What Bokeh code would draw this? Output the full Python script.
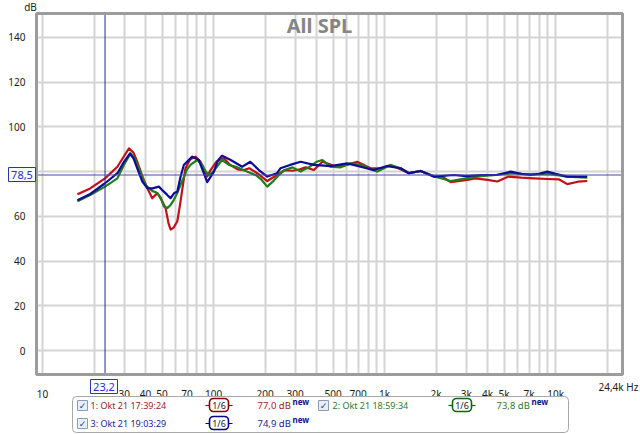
import math
from bokeh.plotting import figure
from bokeh.models import FixedTicker, Label, BoxAnnotation, Grid
from bokeh.embed import file_html
from bokeh.resources import INLINE

# ---------------- data ----------------
red_freq = [16, 19, 23.2, 27.4, 30, 32, 34, 35.8, 38.5, 41, 43.8, 46.9, 49.5, 52.4, 54.5, 56.1, 58.5,
            61.4, 64.1, 66.5, 68.5, 73, 78.5, 84, 88, 91.8, 96, 104, 115, 125, 138, 150, 162, 180,
            206, 235, 260, 290, 320, 345, 386, 433, 470, 517, 600, 692, 828, 950, 1084, 1200, 1388,
            1625, 1936, 2200, 2432, 3042, 3400, 4000, 4560, 5300, 6300, 7460, 8940, 10500, 11700,
            13500, 15300]
red_db = [69.9, 72.5, 77.0, 82.2, 87.0, 90.4, 88.5, 84.4, 77.5, 72.6, 68.1, 70.4, 67.5, 63.7, 57.0, 54.1, 55.0,
          57.8, 66.7, 75.0, 81.5, 85.5, 86.7, 84.4, 80.5, 77.8, 80.7, 84.5, 86.0, 83.0, 81.0, 80.7, 81.5, 79.3,
          75.8, 78.5, 80.7, 80.4, 81.0, 81.9, 80.7, 84.4, 83.5, 82.2, 83.0, 84.4, 81.5, 81.5, 83.0, 81.5, 79.3,
          80.3, 77.8, 77.5, 75.3, 76.3, 77.0, 76.3, 75.6, 77.8, 77.3, 77.0, 76.7, 76.5, 74.4,
          75.5, 75.8]

green_freq = [16, 19, 23.2, 27.4, 29.9, 32.7, 34.5, 36.6, 40, 43.8, 46.9, 49, 51.3, 53.6, 56, 58.6, 61.4,
              64, 67, 70, 73.3, 80.2, 86, 90, 94, 98, 103, 112, 123, 135, 154, 176, 190, 206, 225, 241,
              260, 290, 323, 340, 365, 400, 433, 483, 550, 632, 724, 906, 1084, 1240, 1388, 1625, 1936,
              2432, 3000, 3640, 4500, 5455, 6300, 7145, 8940, 10000, 11700, 15300]
green_db = [66.7, 69.5, 73.3, 77.0, 83.0, 88.1, 86.0, 81.5, 74.0, 71.4, 70.4, 68.5, 64.4, 63.7, 65.0, 67.4, 70.5,
            74.0, 77.5, 81.0, 83.0, 85.2, 83.0, 80.0, 78.5, 79.5, 81.5, 85.2, 83.0, 82.2, 80.3, 78.5, 76.5, 73.3, 76.0, 78.5,
            80.7, 81.9, 80.0, 81.0, 82.2, 84.4, 85.2, 82.2, 81.9, 83.7, 83.0, 80.0, 83.0, 81.5, 79.3, 80.3, 78.0,
            75.8, 77.0, 78.0, 78.5, 79.3, 79.0, 78.9, 79.0, 78.5, 77.8, 77.3]

blue_freq = [16, 19, 23.2, 27.4, 30, 32.4, 34, 35.8, 38.3, 41, 44, 47.9, 50.5, 53.6, 56, 59, 61.4, 64, 67,
             75, 82, 87, 91.8, 100.5, 106, 112, 126, 147, 164, 184, 206, 235, 246, 280, 323, 386, 483,
             605, 724, 866, 1037, 1242, 1388, 1625, 1936, 2537, 3000, 3640, 4500, 5455, 6300, 7145,
             8000, 8940, 10000, 11700, 15300]
blue_db = [67.2, 70.0, 74.8, 79.3, 84.5, 88.1, 86.0, 81.5, 75.6, 72.6, 72.5, 73.3, 71.5, 69.6, 68.1, 70.5, 71.1, 77.5, 83.0,
           86.7, 85.2, 80.0, 75.3, 80.0, 85.0, 87.1, 85.2, 82.2, 84.4, 80.7, 77.8, 79.3, 81.5, 83.0, 84.4, 83.0, 82.5,
           83.7, 82.2, 80.7, 82.5, 81.5, 79.3, 80.3, 77.8, 78.5, 78.0, 78.5, 78.5, 80.0, 79.0, 78.5,
           79.0, 80.0, 79.0, 77.8, 77.8]

series_names = ["1: Okt 21 17:39:24", "2: Okt 21 18:59:34", "3: Okt 21 19:03:29"]
series_levels = ["77,0 dB", "73,8 dB", "74,9 dB"]
smoothing_label = "1/6"

y_ticks = [0, 20, 40, 60, 80, 100, 120, 140]
y_label_ticks = [0, 20, 40, 60, 100, 120, 140]
x_label_ticks = [10, 30, 40, 50, 70, 100, 200, 300, 500, 700, 1000, 2000, 3000, 4000, 5000, 7000, 10000]
x_label_text = ["10", "30", "40", "50", "70", "100", "200", "300", "500", "700", "1k", "2k", "3k",
                "4k", "5k", "7k", "10k"]
grid_freqs = [10, 20, 30, 40, 50, 60, 70, 80, 90, 100, 200, 300, 400, 500, 600, 700, 800, 900,
              1000, 2000, 3000, 4000, 5000, 6000, 7000, 8000, 9000, 10000, 20000]
x_bounds = (9.22, 24600)      # visible frequency span of the chart
y_bounds = (-10.7, 150.7)     # visible level span of the chart
cursor_freq = 23.2
cursor_db = 78.5
cursor_freq_text = "23,2"
cursor_db_text = "78,5"
x_end_text = "24,4k Hz"

# ---------------- layout ----------------
W, H = 640, 434
CL, CT, CR, CB = 36, 13, 622, 374   # chart box in canvas pixels
FONT = "Noto Sans"

lx0, lx1 = math.log10(x_bounds[0]), math.log10(x_bounds[1])
ppd = (CR - CL) / (lx1 - lx0)
fx0 = 10 ** (lx0 - CL / ppd)
fx1 = 10 ** (lx1 + (W - CR) / ppd)
ppu = (CB - CT) / (y_bounds[1] - y_bounds[0])
fy1 = y_bounds[1] + CT / ppu
fy0 = y_bounds[0] - (H - CB) / ppu


def sx(X):
    return X


def sy(Y):
    return H - Y


def lab(X, Y, text, **kw):
    opts = dict(text_font=FONT, text_font_size="10px", text_color="#202020", text_align="left",
                text_baseline="middle", level="overlay")
    opts.update(kw)
    return Label(x=sx(X), y=sy(Y), x_units="screen", y_units="screen", text=text, **opts)


def box(L, R, T, B, **kw):
    opts = dict(fill_alpha=1, line_alpha=1, level="overlay")
    opts.update(kw)
    return BoxAnnotation(left=sx(L), right=sx(R), top=sy(T), bottom=sy(B),
                         left_units="screen", right_units="screen", top_units="screen",
                         bottom_units="screen", **opts)


p = figure(width=W, height=H, x_axis_type="log", x_range=(fx0, fx1), y_range=(fy0, fy1),
           output_backend="svg", toolbar_location=None, title=None,
           min_border_left=0, min_border_right=0, min_border_top=0, min_border_bottom=0)
p.background_fill_color = "white"
p.border_fill_color = "white"
p.outline_line_color = None

# grid lines limited to the chart box
grid_col = "#d4d4d4"
if hasattr(Grid(), "cross_bounds"):
    p.xgrid.ticker = FixedTicker(ticks=grid_freqs)
    p.ygrid.ticker = FixedTicker(ticks=y_ticks)
    p.xgrid.cross_bounds = y_bounds
    p.ygrid.cross_bounds = x_bounds
    for g in (p.xgrid, p.ygrid):
        g.grid_line_color = grid_col
        g.grid_line_width = 2
else:
    p.xgrid.visible = False
    p.ygrid.visible = False
    p.segment(grid_freqs, [y_bounds[0]] * len(grid_freqs), grid_freqs, [y_bounds[1]] * len(grid_freqs),
              line_color=grid_col, line_width=2, level="underlay")
    p.segment([x_bounds[0]] * len(y_ticks), y_ticks, [x_bounds[1]] * len(y_ticks), y_ticks,
              line_color=grid_col, line_width=2, level="underlay")

p.xaxis.ticker = FixedTicker(ticks=x_label_ticks)
p.xaxis.major_label_overrides = {t: s for t, s in zip(x_label_ticks, x_label_text)}
p.xaxis.fixed_location = y_bounds[0]
p.yaxis.ticker = FixedTicker(ticks=y_label_ticks)
p.yaxis.fixed_location = x_bounds[0]
for ax in (p.xaxis, p.yaxis):
    ax.axis_line_color = None
    ax.major_tick_line_color = None
    ax.minor_tick_line_color = None
    ax.major_label_text_font = FONT
    ax.major_label_text_font_size = "10px"
    ax.major_label_text_color = "#1a1a1a"
p.xaxis.major_label_standoff = 6
p.yaxis.major_label_standoff = 5

# chart frame
p.add_layout(BoxAnnotation(left=x_bounds[0], right=x_bounds[1], bottom=y_bounds[0], top=y_bounds[1],
                           fill_color=None, line_color="#9c9c9c", line_alpha=1, line_width=3,
                           level="annotation"))

colors = ["#c01018", "#1c7f1c", "#0c0c98"]
for f, d, c in ((red_freq, red_db, colors[0]), (green_freq, green_db, colors[1]), (blue_freq, blue_db, colors[2])):
    p.line(f, d, line_color=c, line_width=2.2, line_join="round")

# cursor lines
p.segment([cursor_freq], [y_bounds[0]], [cursor_freq], [y_bounds[1]], line_color="#2828a0", line_width=1)
p.segment([x_bounds[0]], [cursor_db], [x_bounds[1]], [cursor_db], line_color="#4848b0", line_width=1.2)

# title and axis units
p.add_layout(lab(319, 25, "All SPL", text_font_style="bold", text_font_size="20px",
                 text_color="#858585", text_align="center"))
p.add_layout(lab(30, 6, "dB", text_align="center"))
p.add_layout(lab(598, 386, x_end_text))

# cursor value boxes
p.add_layout(box(8, 35, 167, 181, fill_color="white", line_color="#3030c0", line_width=1))
p.add_layout(lab(21.5, 174, cursor_db_text, text_font_size="11px", text_color="#2a2ad0", text_align="center"))
p.add_layout(box(90, 117, 379, 393, fill_color="white", line_color="#3030c0", line_width=1))
p.add_layout(lab(103.5, 386, cursor_freq_text, text_font_size="11px", text_color="#2a2ad0",
                 text_align="center"))

# legend frame
p.add_layout(box(72, 568, 396, 432, fill_color="white", line_color="#a8a8a8", line_width=1, border_radius=4))

text_cols = ["#9b1c1c", "#2d7a2d", "#1c1c8c"]
icon_cols = ["#8b0000", "#0a6a0a", "#00008b"]
# (checkbox x, name x, icon left, value x, row y)
slots = [(77, 90, 205, 257, 405), (318, 332, 448, 496, 405), (77, 90, 205, 257, 423)]
for i, (cbx, nx, ix, vx, ry) in enumerate(slots):
    p.add_layout(box(cbx, cbx + 10, ry - 5, ry + 5, fill_color="#e6eef8", line_color="#8c9cb4", line_width=1))
    p.add_layout(lab(cbx + 5, ry, "\u2713", text_font="DejaVu Sans", text_font_size="9px",
                     text_color="#2040a0", text_align="center"))
    p.add_layout(lab(nx, ry, series_names[i], text_color=text_cols[i], text_font_size="9px"))
    # smoothing icon
    p.add_layout(box(ix, ix + 27, ry - 0.6, ry + 0.6, fill_color=icon_cols[i], line_color=None))
    p.add_layout(box(ix + 4, ix + 23, ry - 7, ry + 6, fill_color="white",
                     line_color=icon_cols[i], line_width=1.6, border_radius=4))
    p.add_layout(lab(ix + 13.5, ry, smoothing_label, text_align="center", text_font_size="9px"))
    p.add_layout(lab(vx, ry, series_levels[i], text_color=text_cols[i], text_font_size="9.5px"))
    p.add_layout(lab(vx + 35, ry - 4, "new", text_font_size="8px", text_font_style="bold",
                     text_color="#10108a"))

open("out.html", "w").write(file_html(p, INLINE))
